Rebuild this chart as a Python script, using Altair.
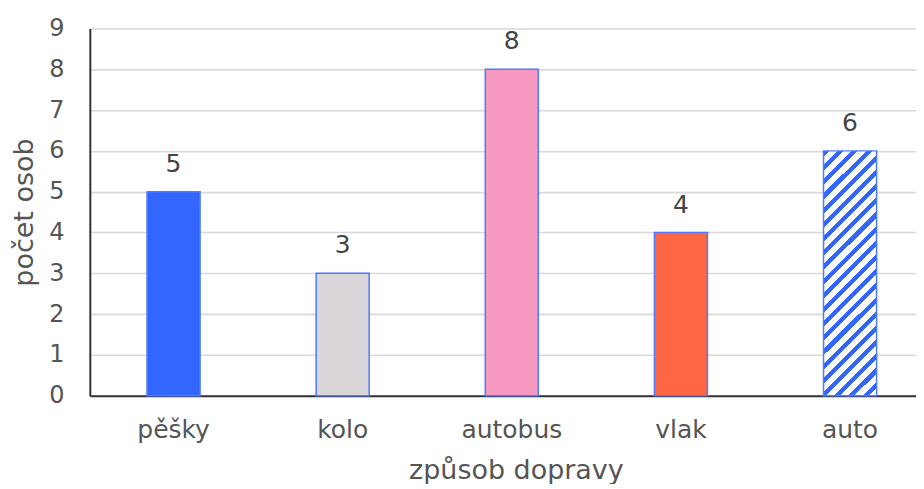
import altair as alt
import pandas as pd

categories = ["pěšky", "kolo", "autobus", "vlak", "auto"]
values = [5, 3, 8, 4, 6]
bar_colors = ["#3366ff", "#d9d5d9", "#f799c1", "#ff6644", "#ffffff"]

df = pd.DataFrame({"kategorie": categories, "pocet": values})

FONT = "DejaVu Sans"
STRIPE_BLUE = "#3366ff"

# diagonal stripe fill for the "auto" bar (style only)
n_per = 21
frac = 0.43
stops = []
for k in range(n_per):
    a = k / n_per
    b = (k + frac) / n_per
    c = (k + 1) / n_per
    stops += [
        {"offset": a, "color": STRIPE_BLUE},
        {"offset": b, "color": STRIPE_BLUE},
        {"offset": b, "color": "#ffffff"},
        {"offset": c, "color": "#ffffff"},
    ]
stripe = {"gradient": "linear", "x1": 0, "y1": 0, "x2": 0.251, "y2": 1.162, "stops": stops}

x_enc = alt.X(
    "kategorie:N",
    sort=categories,
    title="způsob dopravy",
    scale=alt.Scale(paddingInner=0.6864, paddingOuter=0.2857, align=0.592),
    axis=alt.Axis(
        labelAngle=0,
        labelFont=FONT,
        labelFontSize=25,
        labelColor="#555555",
        labelPadding=22,
        ticks=False,
        tickSize=0,
        domainColor="#333333",
        domainWidth=2,
        titleFont=FONT,
        titleFontSize=27,
        titleFontWeight="normal",
        titleColor="#555555",
        titlePadding=15,
        titleX=427,
        titleAlign="center",
    ),
)
y_enc = alt.Y(
    "pocet:Q",
    title="počet osob",
    scale=alt.Scale(domain=[0, 9], nice=False),
    axis=alt.Axis(
        values=[0, 1, 2, 3, 4, 5, 6, 7, 8, 9],
        labelFont=FONT,
        labelFontSize=24,
        labelColor="#555555",
        labelPadding=26,
        ticks=False,
        tickSize=0,
        domainColor="#333333",
        domainWidth=2,
        gridColor="#d9d9d9",
        gridWidth=1.6,
        titleFont=FONT,
        titleFontSize=27,
        titleFontWeight="normal",
        titleColor="#555555",
        titlePadding=10,
    ),
)

base = alt.Chart(df)

bars = base.transform_filter(alt.datum.kategorie != "auto").mark_bar(
    stroke="#4d7aff", strokeWidth=1.5
).encode(
    x=x_enc,
    y=y_enc,
    fill=alt.Color(
        "kategorie:N",
        scale=alt.Scale(domain=categories, range=bar_colors),
        legend=None,
    ),
)

auto_bar = base.transform_filter(alt.datum.kategorie == "auto").mark_bar(
    stroke="#4d7aff", strokeWidth=1.5, fill=stripe
).encode(x=x_enc, y=y_enc)

labels = base.mark_text(
    font=FONT, fontSize=25, color="#444444", baseline="alphabetic", dy=-20
).encode(x=x_enc, y=y_enc, text="pocet:Q")

chart = (
    alt.layer(bars, auto_bar, labels)
    .properties(
        width=828,
        height=368,
        padding={"left": 2, "top": 8, "right": 0, "bottom": 0},
    )
    .configure_view(stroke=None)
    .configure_axis(grid=False)
    .configure_axisY(grid=True)
)

chart.save("out.html", embed_options={"renderer": "svg", "actions": False})
